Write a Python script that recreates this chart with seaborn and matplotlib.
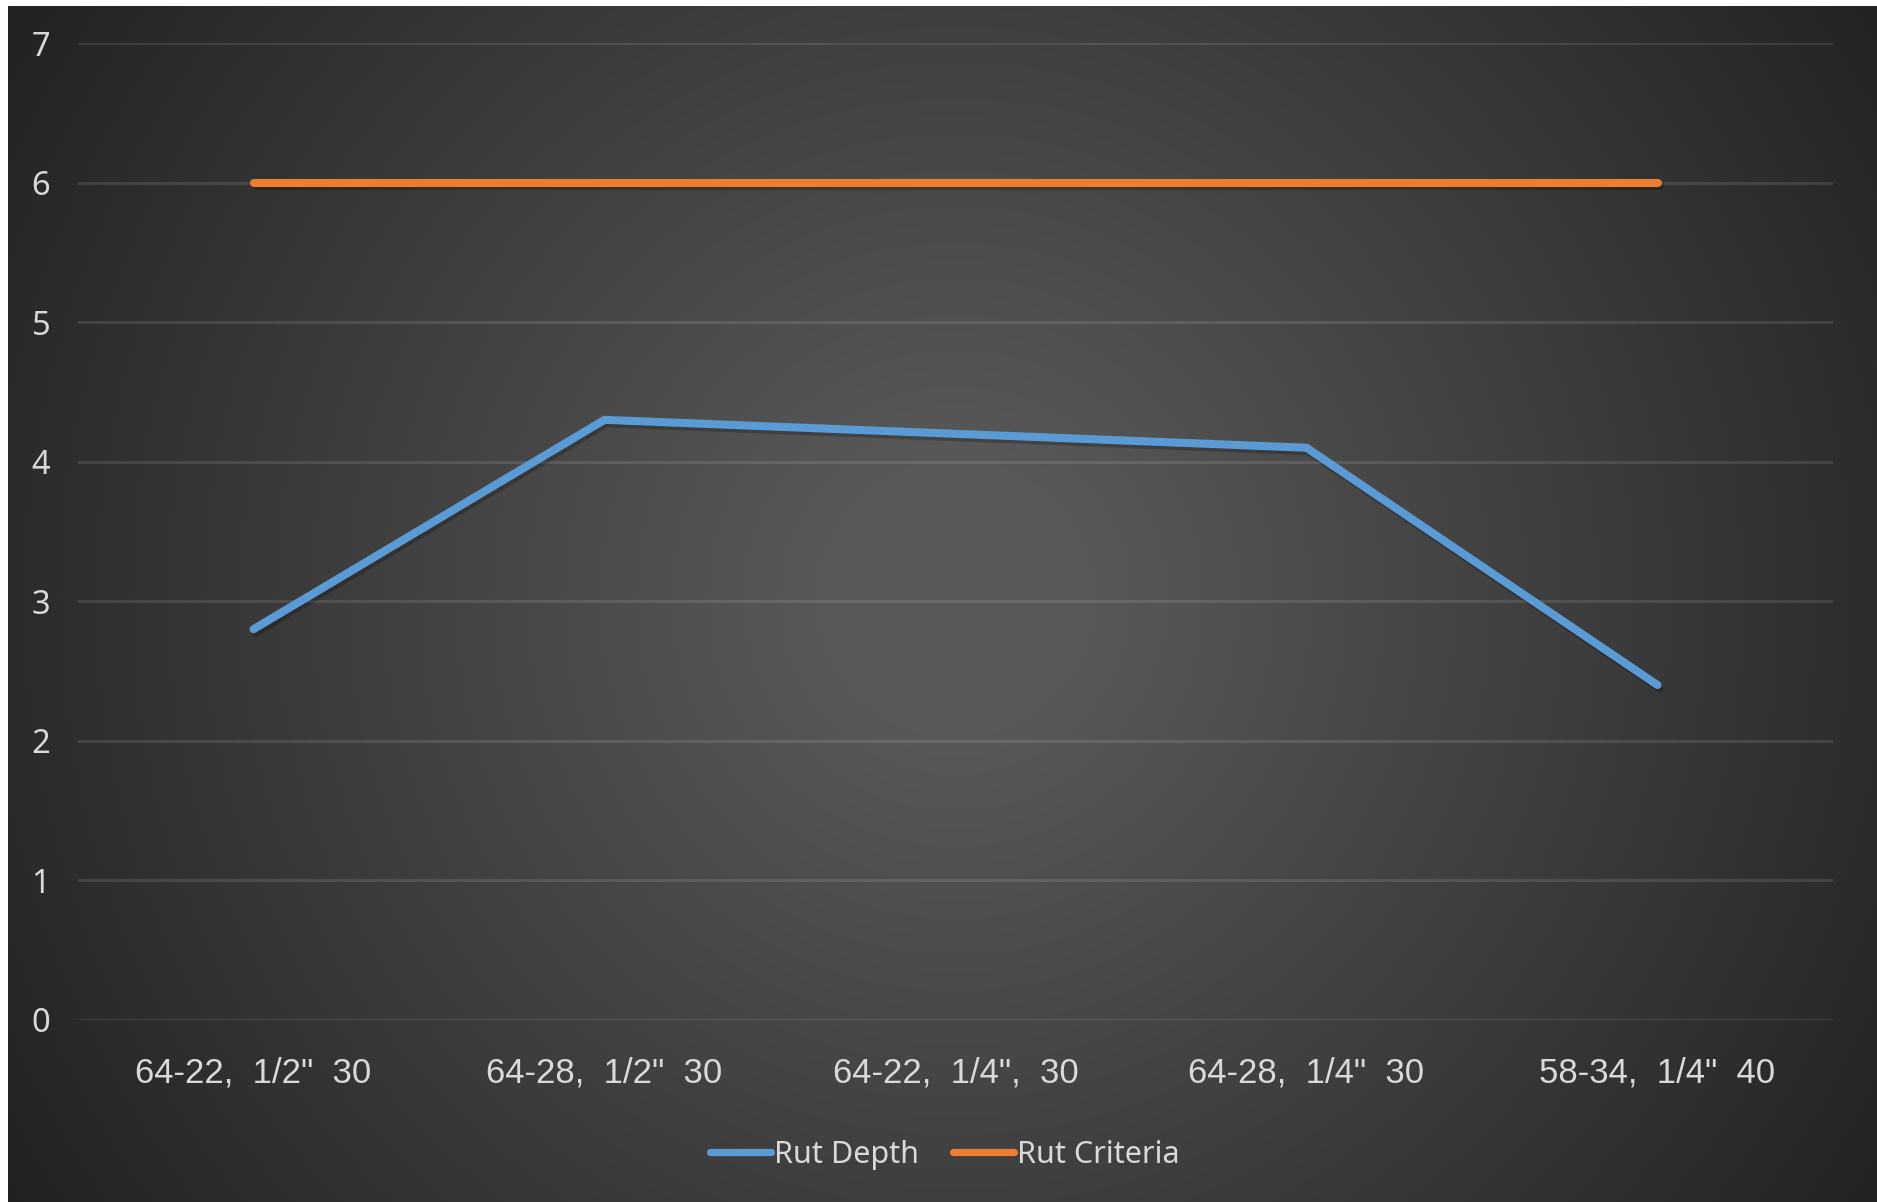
import numpy as np
import pandas as pd
import matplotlib
matplotlib.use("Agg")
import matplotlib.pyplot as plt
import matplotlib.patheffects as pe
import seaborn as sns

# Mix designs tested and their measured rut depths (mm) against the criterion
mixes = ['64-22,  1/2"  30', '64-28,  1/2"  30', '64-22,  1/4",  30',
         '64-28,  1/4"  30', '58-34,  1/4"  40']
rut_depth = [2.8, 4.3, 4.2, 4.1, 2.4]
rut_criteria = [6, 6, 6, 6, 6]
series_names = ["Rut Depth", "Rut Criteria"]
series_colors = ["#5B9BD5", "#ED7D31"]
y_ticks = [0, 1, 2, 3, 4, 5, 6, 7]

df = pd.DataFrame({
    "mix": mixes * 2,
    "value": rut_depth + rut_criteria,
    "series": [series_names[0]] * len(mixes) + [series_names[1]] * len(mixes),
})

sns.set_theme(style="dark")
W, H, DPI = 1877, 1202, 100
fig = plt.figure(figsize=(W / DPI, H / DPI), dpi=DPI, facecolor="white")

# Radial gradient backdrop for the chart area
bg_left, bg_top = 8 / W, 6 / H
bg_ax = fig.add_axes([bg_left, 0, 1 - bg_left, 1 - bg_top], zorder=0)
bw, bh = W - 8, H - 6
yy, xx = np.mgrid[0:bh, 0:bw]
cx, cy = 947, 592
r = np.hypot(xx - cx, yy - cy)
t = np.clip((r - 140) / 990, 0, 1)
shade = (88 - 55 * t) / 255.0
bg_ax.imshow(np.dstack([shade, shade, shade]), aspect="auto",
             interpolation="nearest", extent=[0, 1, 0, 1])
bg_ax.set_axis_off()

ax = fig.add_axes([78 / W, 1 - 1020 / H, (1833 - 78) / W, (1020 - 43) / H], zorder=1)
ax.set_facecolor("none")

sns.lineplot(data=df, x="mix", y="value", hue="series", hue_order=series_names,
             palette=series_colors, sort=False, linewidth=5.8, ax=ax,
             legend=False)

for line in ax.get_lines():
    line.set_solid_capstyle("round")
    line.set_solid_joinstyle("miter")
    line.set_path_effects([
        pe.SimpleLineShadow(offset=(1.5, -2.5), shadow_color="black", alpha=0.22),
        pe.Normal(),
    ])

ax.set_xlim(-0.5, len(mixes) - 0.5)
ax.set_ylim(0, 7)
ax.set_yticks(y_ticks)
ax.set_yticklabels([str(v) for v in y_ticks], family=["Noto Sans", "DejaVu Sans"],
                   fontsize=23.5, color="#d9d9d9")
ax.set_xticks(range(len(mixes)))
ax.set_xticklabels(mixes, family=["Liberation Sans", "DejaVu Sans"],
                   fontsize=25, color="#d9d9d9")
ax.tick_params(axis="y", length=0, pad=20)
ax.tick_params(axis="x", length=0, pad=26)
ax.set_xlabel("")
ax.set_ylabel("")
for s in ax.spines.values():
    s.set_visible(False)
ax.grid(False)
ax.yaxis.grid(True, color="white", alpha=0.11, linewidth=2.1)
ax.set_axisbelow(True)

handles = [plt.Line2D([], [], color=c, linewidth=5.2, solid_capstyle="round")
           for c in series_colors]
leg = fig.legend(handles, series_names, loc="center", bbox_to_anchor=(945 / W, 1 - 1155 / H),
                 ncol=2, frameon=False, handlelength=2.0, handletextpad=0.1,
                 columnspacing=1.1, prop={"family": ["Noto Sans", "DejaVu Sans"], "size": 22})
for txt in leg.get_texts():
    txt.set_color("#d9d9d9")

fig.savefig("out.png", dpi=DPI, facecolor="white")
